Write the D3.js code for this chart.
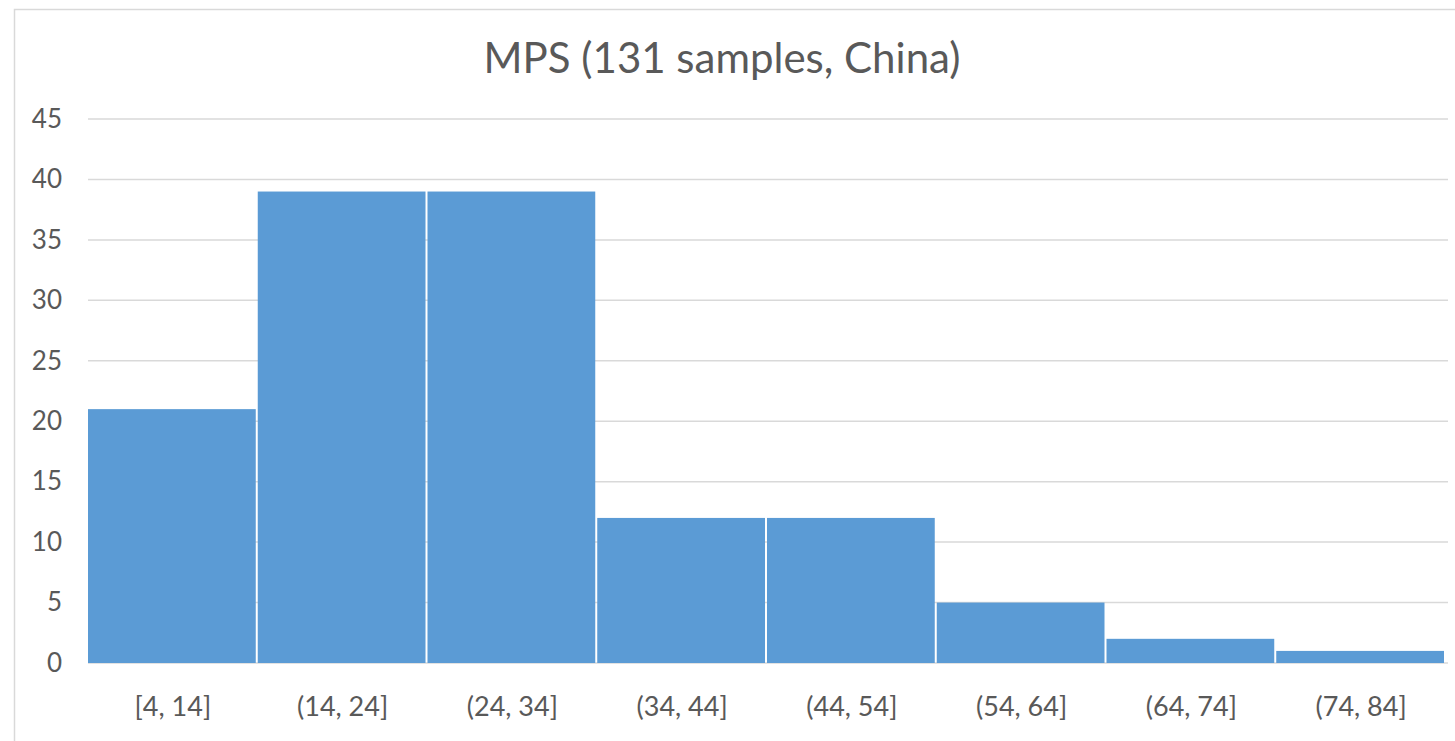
<!DOCTYPE html>
<html>
<head>
<meta charset="utf-8">
<script src="https://cdn.jsdelivr.net/npm/d3@7"></script>
<style>
  html, body { margin: 0; padding: 0; background: #fff; }
  svg { display: block; }
</style>
</head>
<body>
<svg id="chart" width="1455" height="741"></svg>
<script>
// Histogram bins and counts
const categories = ["[4, 14]", "(14, 24]", "(24, 34]", "(34, 44]", "(44, 54]", "(54, 64]", "(64, 74]", "(74, 84]"];
const counts = [21, 39, 39, 12, 12, 5, 2, 1];
const yTicks = [0, 5, 10, 15, 20, 25, 30, 35, 40, 45];
const title = "MPS (131 samples, China)";

const W = 1455, H = 741;
const margin = { left: 88, right: 9, top: 119, bottom: 78 };
const font = "Lato, 'Open Sans', sans-serif";
const textColor = "#595959";

const svg = d3.select("#chart");

// chart frame
svg.append("rect")
  .attr("x", 14.5).attr("y", 9.5)
  .attr("width", W + 10).attr("height", H + 10)
  .attr("fill", "#fff").attr("stroke", "#d9d9d9").attr("stroke-width", 1.5);

const x = d3.scaleBand()
  .domain(categories)
  .range([margin.left, W - margin.right])
  .paddingInner(0).paddingOuter(0);

const y = d3.scaleLinear()
  .domain([0, 45])
  .range([H - margin.bottom, margin.top]);

// gridlines
svg.append("g")
  .selectAll("line")
  .data(yTicks)
  .join("line")
  .attr("x1", margin.left).attr("x2", W - 7)
  .attr("y1", d => y(d)).attr("y2", d => y(d))
  .attr("stroke", "#d9d9d9").attr("stroke-width", 1.5);

// bars
svg.append("g")
  .selectAll("rect")
  .data(counts)
  .join("rect")
  .attr("x", (d, i) => x(categories[i]))
  .attr("width", x.bandwidth() - 2)
  .attr("y", d => y(d))
  .attr("height", d => y(0) - y(d))
  .attr("fill", "#5b9bd5");

// y axis labels
const yAxis = d3.axisLeft(y).tickValues(yTicks).tickSize(0).tickPadding(26);
const gy = svg.append("g").attr("transform", `translate(${margin.left},0)`).call(yAxis);
gy.select(".domain").remove();
gy.selectAll("text")
  .attr("font-family", font).attr("font-size", 26).attr("fill", textColor);

// x axis labels
const xAxis = d3.axisBottom(x).tickSize(0).tickPadding(34);
const gx = svg.append("g").attr("transform", `translate(0,${y(0)})`).call(xAxis);
gx.select(".domain").remove();
gx.selectAll("text")
  .attr("font-family", font).attr("font-size", 27).attr("fill", textColor);

// title
svg.append("text")
  .attr("x", 722).attr("y", 73)
  .attr("text-anchor", "middle")
  .attr("font-family", font).attr("font-size", 42)
  .attr("fill", textColor)
  .text(title);
</script>
</body>
</html>
